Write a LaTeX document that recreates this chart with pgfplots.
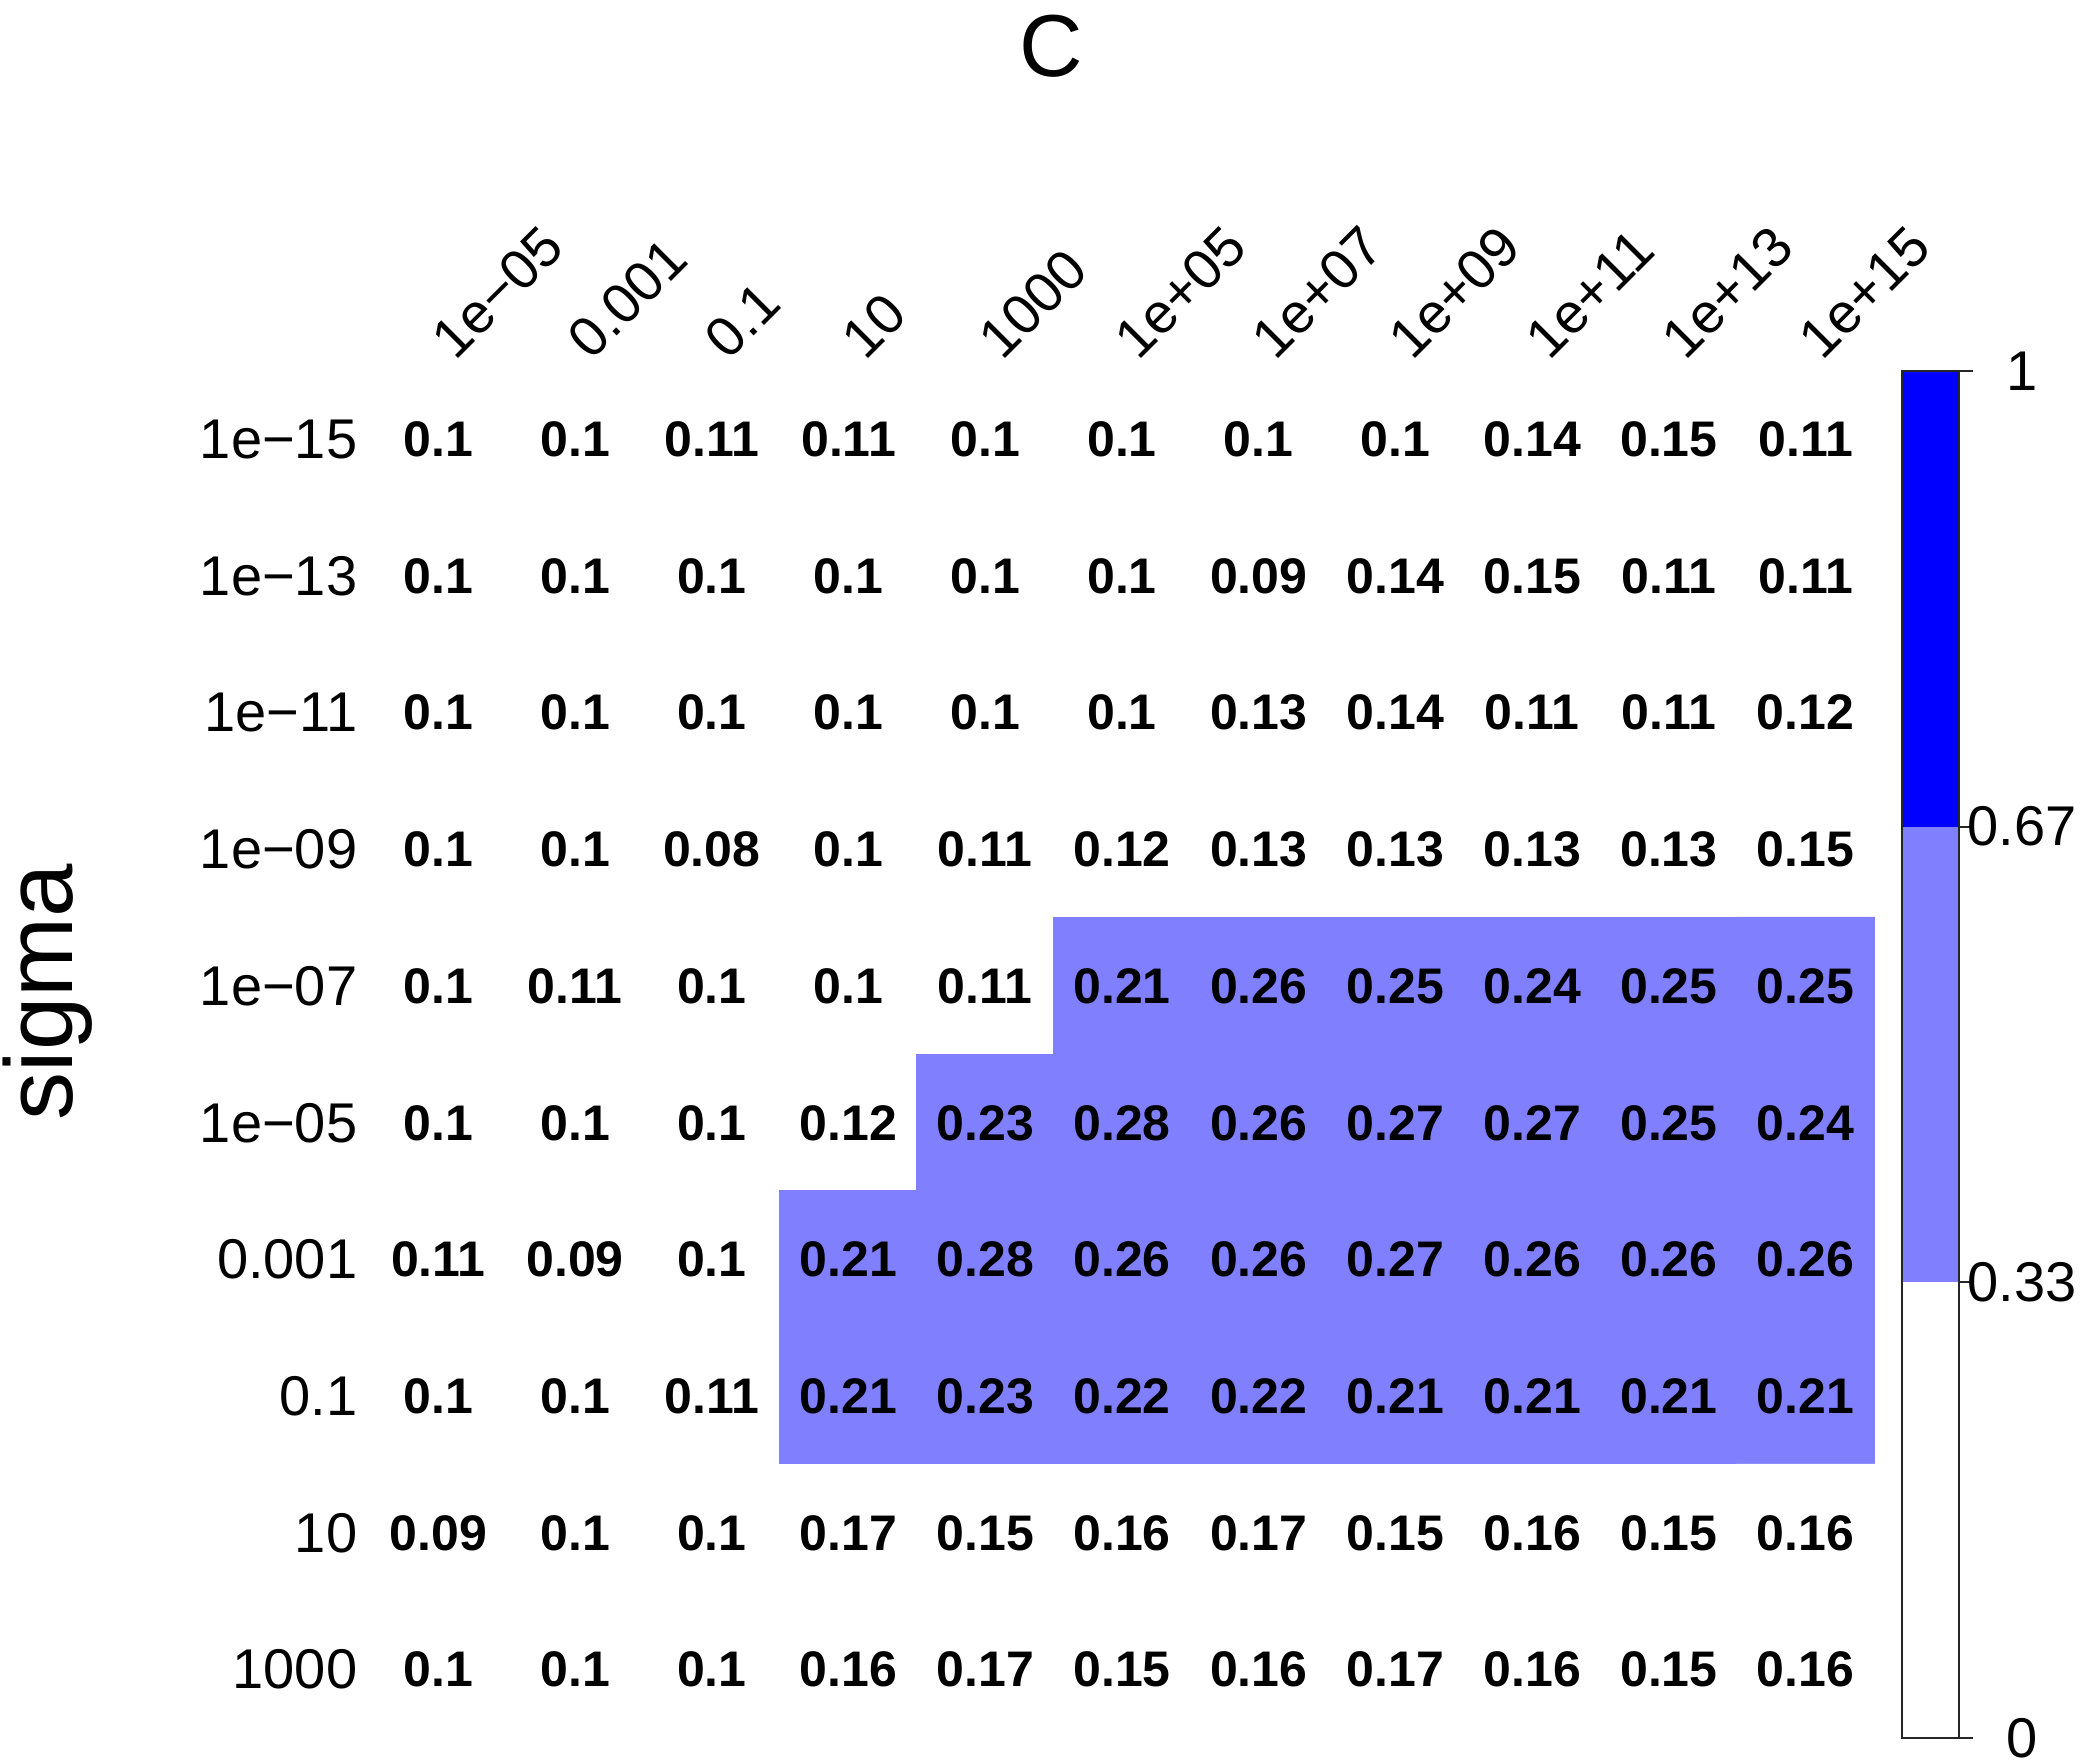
\documentclass[border=0pt]{standalone}
\usepackage{pgfplots}
\usepackage{pgfplotstable}
\pgfplotsset{compat=1.18}
\usepackage{fontspec}
\setmainfont{Liberation Sans}
\definecolor{lb}{RGB}{128,128,255}
\definecolor{db}{RGB}{0,0,255}

\pgfplotstableread{
x y c v
0 0 0 0.1
1 0 0 0.1
2 0 0 0.11
3 0 0 0.11
4 0 0 0.1
5 0 0 0.1
6 0 0 0.1
7 0 0 0.1
8 0 0 0.14
9 0 0 0.15
10 0 0 0.11
0 1 0 0.1
1 1 0 0.1
2 1 0 0.1
3 1 0 0.1
4 1 0 0.1
5 1 0 0.1
6 1 0 0.09
7 1 0 0.14
8 1 0 0.15
9 1 0 0.11
10 1 0 0.11
0 2 0 0.1
1 2 0 0.1
2 2 0 0.1
3 2 0 0.1
4 2 0 0.1
5 2 0 0.1
6 2 0 0.13
7 2 0 0.14
8 2 0 0.11
9 2 0 0.11
10 2 0 0.12
0 3 0 0.1
1 3 0 0.1
2 3 0 0.08
3 3 0 0.1
4 3 0 0.11
5 3 0 0.12
6 3 0 0.13
7 3 0 0.13
8 3 0 0.13
9 3 0 0.13
10 3 0 0.15
0 4 0 0.1
1 4 0 0.11
2 4 0 0.1
3 4 0 0.1
4 4 0 0.11
5 4 1 0.21
6 4 1 0.26
7 4 1 0.25
8 4 1 0.24
9 4 1 0.25
10 4 1 0.25
0 5 0 0.1
1 5 0 0.1
2 5 0 0.1
3 5 0 0.12
4 5 1 0.23
5 5 1 0.28
6 5 1 0.26
7 5 1 0.27
8 5 1 0.27
9 5 1 0.25
10 5 1 0.24
0 6 0 0.11
1 6 0 0.09
2 6 0 0.1
3 6 1 0.21
4 6 1 0.28
5 6 1 0.26
6 6 1 0.26
7 6 1 0.27
8 6 1 0.26
9 6 1 0.26
10 6 1 0.26
0 7 0 0.1
1 7 0 0.1
2 7 0 0.11
3 7 1 0.21
4 7 1 0.23
5 7 1 0.22
6 7 1 0.22
7 7 1 0.21
8 7 1 0.21
9 7 1 0.21
10 7 1 0.21
0 8 0 0.09
1 8 0 0.1
2 8 0 0.1
3 8 0 0.17
4 8 0 0.15
5 8 0 0.16
6 8 0 0.17
7 8 0 0.15
8 8 0 0.16
9 8 0 0.15
10 8 0 0.16
0 9 0 0.1
1 9 0 0.1
2 9 0 0.1
3 9 0 0.16
4 9 0 0.17
5 9 0 0.15
6 9 0 0.16
7 9 0 0.17
8 9 0 0.16
9 9 0 0.15
10 9 0 0.16
}\heat

\begin{document}
\begin{tikzpicture}
\useasboundingbox (0,0) rectangle (520pt,440.75pt);
\begin{axis}[
  at={(92.5pt,348pt)}, anchor=north west,
  scale only axis, width=376pt, height=341.75pt,
  xmin=-0.5, xmax=10.5, ymin=-0.5, ymax=9.5, y dir=reverse,
  axis line style={draw=none}, major tick length=0pt,
  xtick={0,...,10},
  xticklabels={1e−05,0.001,0.1,10,1000,1e+05,1e+07,1e+09,1e+11,1e+13,1e+15},
  xticklabel pos=right,
  ytick={0,...,9},
  yticklabels={1e−15,1e−13,1e−11,1e−09,1e−07,1e−05,0.001,0.1,10,1000},
  tick label style={font=\fontsize{14}{16}\selectfont},
  xticklabel style={xshift=4.3pt, yshift=2pt, rotate=45, anchor=south west, inner sep=0pt},
  yticklabel style={anchor=east, inner sep=0pt, xshift=-3pt},
  colormap={cb}{rgb255=(255,255,255) rgb255=(128,128,255)},
  point meta min=0, point meta max=1,
  clip=false,
]
\addplot[matrix plot*, mesh/cols=11, point meta=explicit] table[x=x, y=y, meta=c] {\heat};
\addplot[draw=none, mark=none, point meta=explicit symbolic,
  nodes near coords={\pgfplotspointmeta},
  every node near coord/.append style={anchor=center, inner sep=0pt,
    font=\fontsize{12.5}{15}\selectfont\bfseries}]
  table[x=x, y=y, meta=v] {\heat};
\end{axis}

\begin{axis}[
  at={(475.5pt,348pt)}, anchor=north west,
  scale only axis, width=14.25pt, height=341.75pt,
  xmin=0, xmax=1, ymin=0, ymax=1,
  xtick=\empty, ytick={0,0.3333,0.6667,1}, yticklabels={0,0.33,0.67,1},
  ytick pos=right, yticklabel pos=right, tick align=outside,
  major tick length=3.5pt,
  axis line style={line width=0.5pt, black!85},
  tick style={line width=0.5pt, black!85},
  yticklabel style={font=\fontsize{14}{16}\selectfont, anchor=center, inner sep=0pt, xshift=12.25pt},
  axis on top,
]
\addplot[fill=white, draw=none] coordinates {(0,0) (1,0) (1,0.3333) (0,0.3333)} --cycle;
\addplot[fill=lb, draw=none] coordinates {(0,0.3333) (1,0.3333) (1,0.6667) (0,0.6667)} --cycle;
\addplot[fill=db, draw=none] coordinates {(0,0.6667) (1,0.6667) (1,1) (0,1)} --cycle;
\end{axis}

\node[inner sep=0pt, font=\fontsize{22}{26}\selectfont] at (262.75pt,429.25pt) {C};
\node[inner sep=0pt, rotate=90, font=\fontsize{24}{28}\selectfont] at (12pt,192.75pt) {sigma};
\end{tikzpicture}
\end{document}
